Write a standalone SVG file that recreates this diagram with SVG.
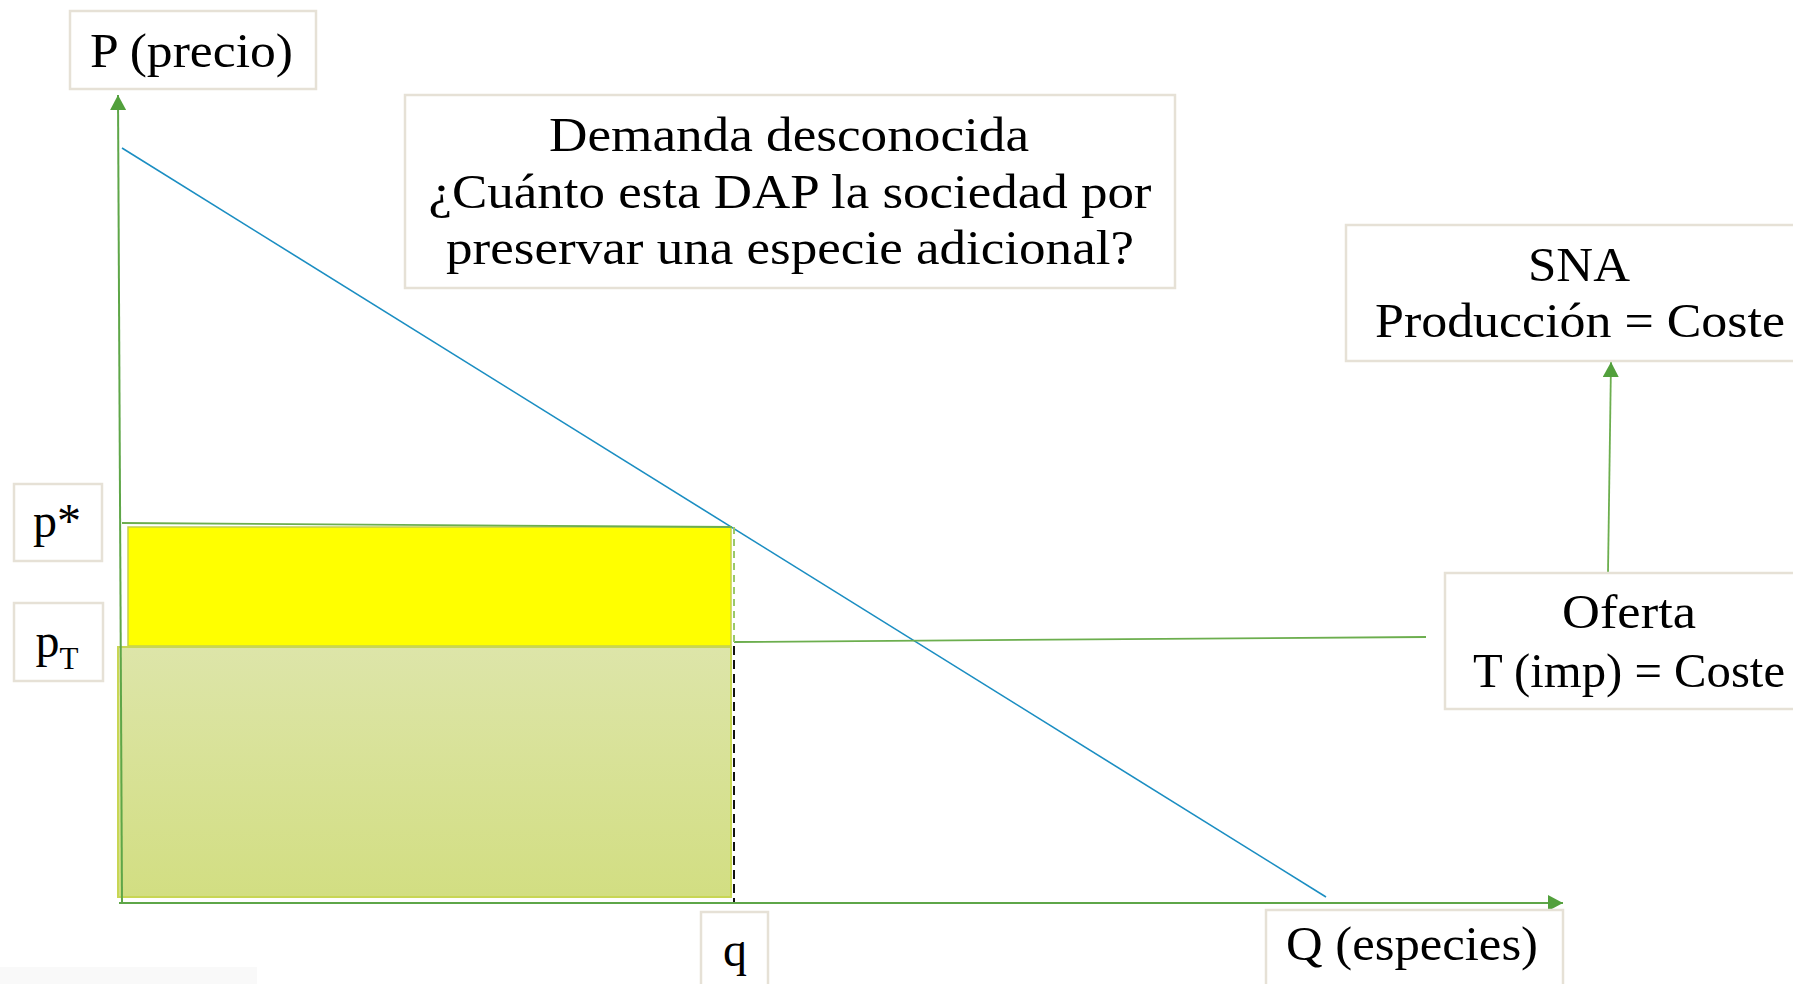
<svg xmlns="http://www.w3.org/2000/svg" width="1793" height="984" viewBox="0 0 1793 984">
<style>
.box{fill:#ffffff;stroke:#e6e1d6;stroke-width:2.5}
.t{font-family:"Liberation Serif","Times New Roman",serif;font-size:48px;fill:#000;text-anchor:middle}
.axis{stroke:#5ea648;stroke-width:2;fill:none}
.gl{stroke:#6cae4e;stroke-width:1.8;fill:none}
</style>
<defs>
<marker id="ah" viewBox="0 0 15 16" refX="15" refY="8" markerWidth="15" markerHeight="16" markerUnits="userSpaceOnUse" orient="auto">
<path d="M0,0 L15,8 L0,16 z" fill="#52a03c"/>
</marker>
<linearGradient id="gg" x1="0" y1="0" x2="0" y2="1">
<stop offset="0" stop-color="#dde5a9"/>
<stop offset="1" stop-color="#d2de82"/>
</linearGradient>
</defs>
<rect x="0" y="967" width="257" height="17" fill="#f9f9f9"/>
<g id="areas">
<rect id="area-yellow" x="128" y="527" width="603" height="119" fill="#ffff00" stroke="#c4d04c" stroke-width="1.5"/>
<rect id="area-green" x="118" y="647" width="613" height="250" fill="url(#gg)" stroke="#c8d654" stroke-width="2"/>
</g>
<g id="connectors">
<line class="axis" x1="122" y1="903" x2="118" y2="95" marker-end="url(#ah)"/>
<line class="axis" x1="119" y1="903" x2="1563" y2="903" marker-end="url(#ah)"/>
<line id="demanda" x1="122" y1="148" x2="1326" y2="897" stroke="#1b8ec2" stroke-width="1.6"/>
<line class="gl" x1="122" y1="523" x2="732" y2="527"/>
<line class="gl" x1="734" y1="642" x2="1426" y2="637"/>
<line x1="734" y1="527" x2="734" y2="646" stroke="#9cc86a" stroke-width="2" stroke-dasharray="7,5"/>
<line x1="734" y1="646" x2="734" y2="902" stroke="#111" stroke-width="2" stroke-dasharray="9,5"/>
<line class="gl" x1="1608" y1="573" x2="1611" y2="362" marker-end="url(#ah)"/>
</g>
<g id="node-P">
<rect class="box" x="70" y="11" width="246" height="78"/>
<text class="t" x="191.5" y="67" textLength="203" lengthAdjust="spacingAndGlyphs">P (precio)</text>
</g>
<g id="node-demanda">
<rect class="box" x="405" y="95" width="770" height="193"/>
<text class="t" x="789" y="151" textLength="480" lengthAdjust="spacingAndGlyphs">Demanda desconocida</text>
<text class="t" x="790" y="208" textLength="723" lengthAdjust="spacingAndGlyphs">¿Cuánto esta DAP la sociedad por</text>
<text class="t" x="790" y="264" textLength="688" lengthAdjust="spacingAndGlyphs">preservar una especie adicional?</text>
</g>
<g id="node-sna">
<rect class="box" x="1346" y="225" width="460" height="136"/>
<text class="t" x="1579" y="281" textLength="102" lengthAdjust="spacingAndGlyphs">SNA</text>
<text class="t" x="1580" y="337" textLength="410" lengthAdjust="spacingAndGlyphs">Producción = Coste</text>
</g>
<g id="node-oferta">
<rect class="box" x="1445" y="573" width="360" height="136"/>
<text class="t" x="1629" y="628" textLength="134" lengthAdjust="spacingAndGlyphs">Oferta</text>
<text class="t" x="1629" y="687" textLength="312" lengthAdjust="spacingAndGlyphs">T (imp) = Coste</text>
</g>
<g id="node-pstar">
<rect class="box" x="14" y="484" width="88" height="77"/>
<text class="t" x="57" y="537">p*</text>
</g>
<g id="node-pT">
<rect class="box" x="14" y="603" width="89" height="78"/>
<text class="t" x="57" y="657">p<tspan font-size="31" dy="12">T</tspan></text>
</g>
<g id="node-q">
<rect class="box" x="701" y="912" width="67" height="80"/>
<text class="t" x="735" y="966">q</text>
</g>
<g id="node-Q">
<rect class="box" x="1266" y="910" width="297" height="80"/>
<text class="t" x="1412" y="960" textLength="252" lengthAdjust="spacingAndGlyphs">Q (especies)</text>
</g>
</svg>
